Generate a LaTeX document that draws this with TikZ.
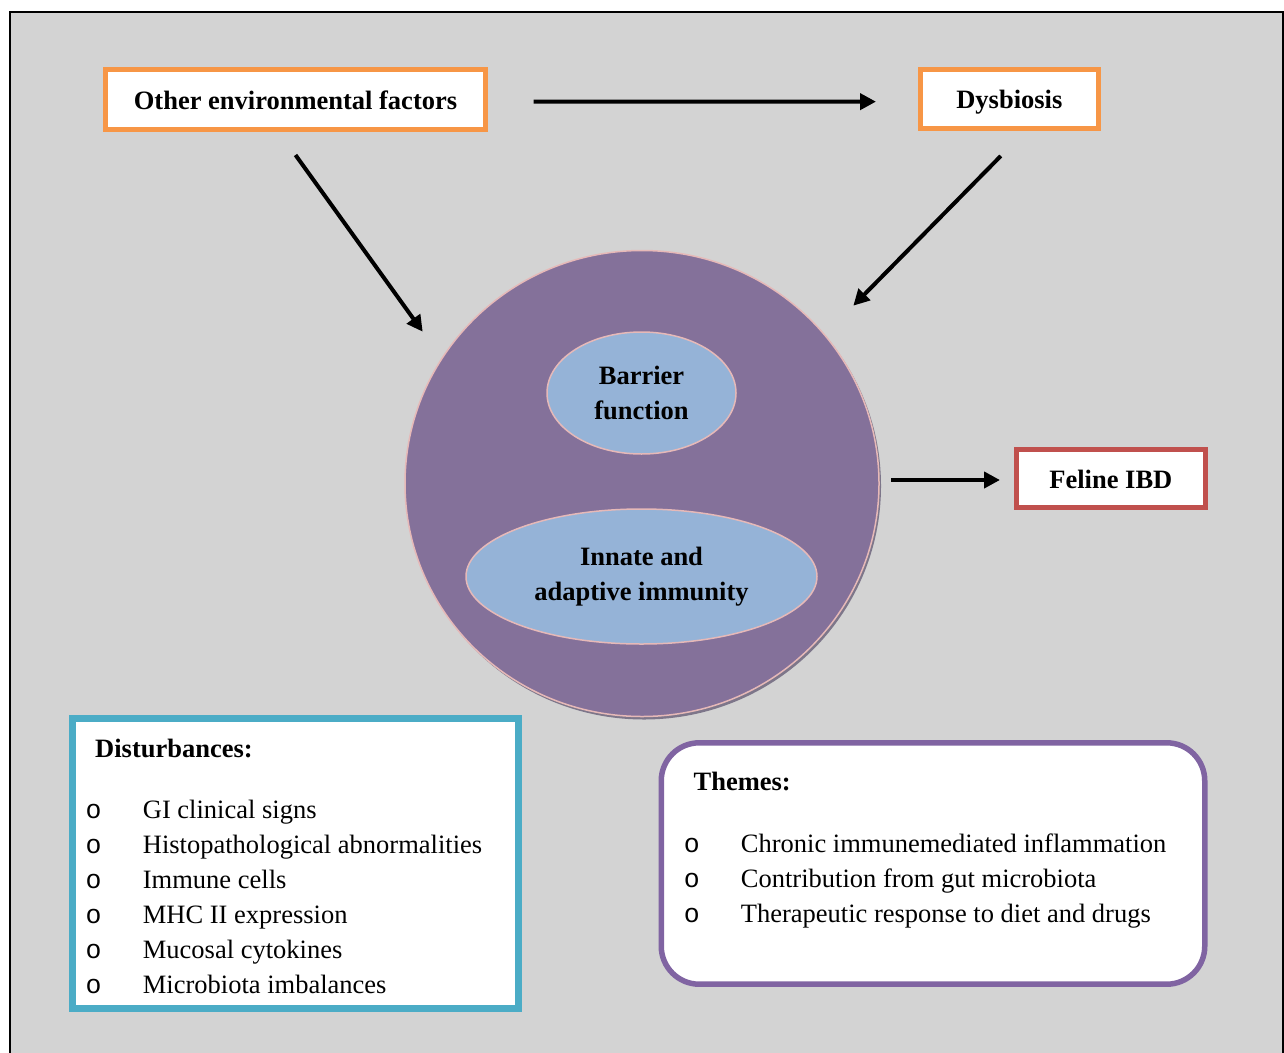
\documentclass[tikz,border=0pt]{standalone}
\usepackage{fontspec}
\setmainfont{Liberation Serif}
\newfontfamily\bulletfont{Liberation Mono}
\usetikzlibrary{arrows.meta,shapes.geometric,calc}
\definecolor{bggrey}{RGB}{211,211,211}
\definecolor{orangeline}{HTML}{F79646}
\definecolor{redline}{HTML}{C0504D}
\definecolor{blueline}{HTML}{4BACC6}
\definecolor{purpleline}{HTML}{8064A2}
\definecolor{circfill}{HTML}{84719A}
\definecolor{ellfill}{HTML}{95B3D7}
\definecolor{pinkline}{HTML}{E6B9B8}
\definecolor{shadowc}{RGB}{125,118,138}
\tikzset{
  fbox/.style={rectangle, draw, line width=5pt, fill=white, inner sep=0pt, outer sep=0pt,
    text height=19.5pt, text depth=0pt,
    font=\bfseries\fontsize{26.5}{32}\selectfont},
  arr/.style={line width=4pt, -{Triangle[length=16pt,width=16pt]}},
  blob/.style={ellipse, draw=pinkline, line width=1.5pt, fill=ellfill, inner sep=0pt, outer sep=0pt,
    align=center, font=\bfseries\fontsize{26.5}{34.5}\selectfont},
  listtxt/.style={anchor=base west, inner sep=0pt, font=\fontsize{26.5}{32}\selectfont},
  listhead/.style={anchor=base west, inner sep=0pt, font=\bfseries\fontsize{26.5}{32}\selectfont},
}
\begin{document}
\begin{tikzpicture}[x=1pt,y=-1pt]
\useasboundingbox (0,0) rectangle (1284,1052);
% frame
\draw[line width=2pt, fill=bggrey] (10,11.5) rectangle (1282.5,1064);

% top boxes
\node[fbox, draw=orangeline, minimum width=380pt, minimum height=60pt] (other) at (295.5,99.5) {Other environmental factors};
\node[fbox, draw=orangeline, minimum width=177.7pt, minimum height=59.3pt] (dys) at (1009.35,98.85) {Dysbiosis};
\node[fbox, draw=redline, minimum width=188.7pt, minimum height=58pt] (ibd) at (1110.85,478.5) {Feline IBD};

% central circle with shadow
\fill[shadowc] (644,486) ellipse [x radius=237pt, y radius=233.5pt];
\node[ellipse, draw=pinkline, line width=1.5pt, fill=circfill, inner sep=0pt, outer sep=0pt,
  minimum width=474pt, minimum height=466pt] (circ) at (642,483.5) {};
\node[blob, minimum width=189pt, minimum height=122pt] (barrier) at (641.5,393) {Barrier\\function};
\node[blob, minimum width=351pt, minimum height=135pt] (innate) at (641.5,576.5) {Innate and\\adaptive immunity};

% arrows
\coordinate (t1) at (422.7,331.7);
\coordinate (t2) at (853.3,305.7);
\draw[arr, shorten <=48pt, shorten >=44.5pt] ([yshift=-2.2pt]other.east) -- ([yshift=-2.8pt]dys.west);
\draw[arr] ([yshift=-25.5pt]other.south) -- (t1);
\draw[arr] ([xshift=-8.6pt,yshift=-27.5pt]dys.south) -- (t2);
\draw[arr, shorten <=12pt, shorten >=16.5pt] ([yshift=-1.5pt]circ.east |- ibd.west) -- ([yshift=-1.5pt]ibd.west);

% disturbances box
\node[rectangle, draw=blueline, line width=6.5pt, fill=white, inner sep=0pt, outer sep=0pt,
  minimum width=446.4pt, minimum height=290.4pt] (dist) at (295.5,863.5) {};
\node[listhead] (disthead) at (95,757) {Disturbances:};
\foreach \t [count=\i] in {GI clinical signs, Histopathological abnormalities, Immune cells,
  MHC II expression, Mucosal cytokines, Microbiota imbalances}
  \node[listtxt] (d\i) at (85.5,783.5+35*\i) {\makebox[57.2pt][l]{\bulletfont o}\t};

% themes box
\node[rectangle, draw=purpleline, line width=5.5pt, fill=white, inner sep=0pt, outer sep=0pt,
  rounded corners=38pt, minimum width=543.5pt, minimum height=241.4pt] (themes) at (933,863.5) {};
\node[listhead] (themehead) at (693.4,790) {Themes:};
\foreach \t [count=\i] in {Chronic immunemediated inflammation, Contribution from gut microbiota,
  Therapeutic response to diet and drugs}
  \node[listtxt] (th\i) at (683.7,817+35*\i) {\makebox[57pt][l]{\bulletfont o}\t};
\end{tikzpicture}
\end{document}
